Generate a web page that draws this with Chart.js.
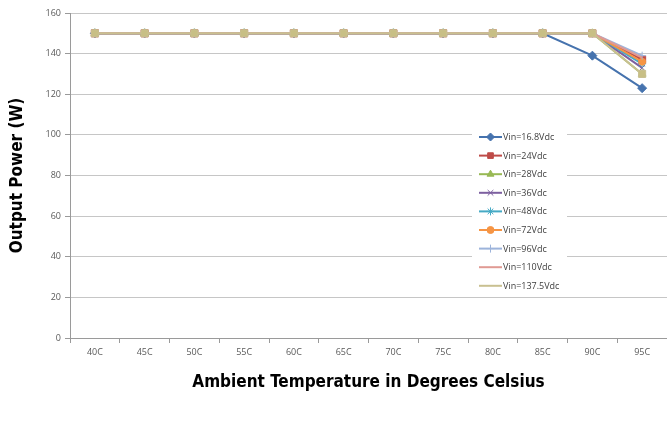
<!DOCTYPE html>
<html>
<head>
<meta charset="utf-8">
<script src="https://cdn.jsdelivr.net/npm/chart.js@4"></script>
<style>
  html, body { margin: 0; padding: 0; background: #fff; }
  #wrap { width: 667px; height: 428px; }
</style>
</head>
<body>
<div id="wrap"><canvas id="powerChart"></canvas></div>
<script>
const temperatures = ['40C', '45C', '50C', '55C', '60C', '65C', '70C', '75C', '80C', '85C', '90C', '95C'];

const vin16_8 = [150, 150, 150, 150, 150, 150, 150, 150, 150, 150, 139, 123];
const vin24 = [150, 150, 150, 150, 150, 150, 150, 150, 150, 150, 150, 137];
const vin28 = [150, 150, 150, 150, 150, 150, 150, 150, 150, 150, 150, 130];
const vin36 = [150, 150, 150, 150, 150, 150, 150, 150, 150, 150, 150, 133];
const vin48 = [150, 150, 150, 150, 150, 150, 150, 150, 150, 150, 150, 135];
const vin72 = [150, 150, 150, 150, 150, 150, 150, 150, 150, 150, 150, 136];
const vin96 = [150, 150, 150, 150, 150, 150, 150, 150, 150, 150, 150, 139];
const vin110 = [150, 150, 150, 150, 150, 150, 150, 150, 150, 150, 150, 138];
const vin137_5 = [150, 150, 150, 150, 150, 150, 150, 150, 150, 150, 150, 130];

const yTicks = [0, 20, 40, 60, 80, 100, 120, 140, 160];

const titleFont = { family: '"DejaVu Sans Condensed", "Liberation Sans", sans-serif', size: 17, weight: 'bold' };

function series(label, data, color, pointStyle, radius, fill, legendMarker) {
    return {
        label,
        data,
        borderColor: color,
        backgroundColor: fill || color,
        pointBorderColor: color,
        pointBackgroundColor: fill || color,
        pointStyle: pointStyle || false,
        pointRadius: pointStyle ? radius : 0,
        pointBorderWidth: 1,
        borderWidth: 2,
        legendMarker: legendMarker !== false,
    };
}

const datasets = [
    series('Vin=16.8Vdc', vin16_8, '#4673AE', 'rectRot', 4.5),
    series('Vin=24Vdc', vin24, '#BE4B48', 'rect', 5),
    series('Vin=28Vdc', vin28, '#98B954', 'triangle', 4.5),
    series('Vin=36Vdc', vin36, '#7D60A0', 'crossRot', 4),
    series('Vin=48Vdc', vin48, '#46AAC5', 'star', 4),
    series('Vin=72Vdc', vin72, '#F69544', 'circle', 3.5),
    series('Vin=96Vdc', vin96, '#9DB4DB', 'cross', 4),
    series('Vin=110Vdc', vin110, '#E09A93', false, 0),
    series('Vin=137.5Vdc', vin137_5, '#C9C091', 'rect', 5, '#C8BF85', false),
];
// later series sit on top, like the original
datasets.forEach((d, i) => { d.order = datasets.length - i; });

const legendBox = {
    id: 'legendBox',
    afterDraw(chart) {
        const ctx = chart.ctx;
        const x0 = 479, y0 = 137, rowH = 18.6;
        ctx.save();
        ctx.fillStyle = '#fff';
        ctx.fillRect(472, 127, 95, 169);
        chart.data.datasets.forEach((ds, i) => {
            const y = y0 + i * rowH;
            ctx.strokeStyle = ds.borderColor;
            ctx.lineWidth = 2;
            ctx.beginPath();
            ctx.moveTo(x0, y);
            ctx.lineTo(x0 + 23, y);
            ctx.stroke();
            if (ds.pointStyle && ds.legendMarker && Chart.helpers && Chart.helpers.drawPoint) {
                ctx.fillStyle = ds.pointBackgroundColor;
                ctx.strokeStyle = ds.pointBorderColor;
                ctx.lineWidth = 1;
                Chart.helpers.drawPoint(ctx, {
                    pointStyle: ds.pointStyle,
                    radius: Math.min(ds.pointRadius, 4),
                    rotation: 0,
                    borderWidth: 1
                }, x0 + 11.5, y);
            }
            ctx.fillStyle = '#404040';
            ctx.font = '9px "Open Sans"';
            ctx.textBaseline = 'middle';
            ctx.fillText(ds.label, x0 + 24, y + 0.5);
        });
        ctx.restore();
    }
};

new Chart(document.getElementById('powerChart'), {
    type: 'line',
    data: { labels: temperatures, datasets },
    options: {
        responsive: true,
        maintainAspectRatio: false,
        animation: false,
        layout: { autoPadding: false, padding: { top: 13, right: -3, left: 0, bottom: 0 } },
        plugins: {
            legend: { display: false },
            tooltip: { enabled: false }
        },
        scales: {
            x: {
                offset: true,
                grid: {
                    offset: true,
                    drawOnChartArea: false,
                    drawTicks: true,
                    tickLength: 5,
                    color: '#9a9a9a'
                },
                border: { color: '#9a9a9a', width: 1 },
                ticks: {
                    color: '#595959',
                    font: { family: 'Open Sans', size: 9 },
                    padding: 4,
                    maxRotation: 0
                },
                title: {
                    display: true,
                    text: 'Ambient Temperature in Degrees Celsius',
                    color: '#000',
                    font: titleFont,
                    padding: { top: 0, bottom: 35 }
                },
                afterFit(scale) {
                    scale.height = 90;
                    scale.paddingLeft = 0;
                    scale.paddingRight = 0;
                }
            },
            y: {
                min: 0,
                max: 160,
                afterBuildTicks(scale) { scale.ticks = yTicks.map(v => ({ value: v })); },
                grid: {
                    color: '#c6c6c6',
                    tickLength: 5,
                    tickColor: '#9a9a9a'
                },
                border: { color: '#9a9a9a', width: 1 },
                ticks: {
                    color: '#595959',
                    font: { family: 'Open Sans', size: 9 },
                    padding: 4
                },
                title: {
                    display: true,
                    text: 'Output Power (W)',
                    color: '#000',
                    font: titleFont,
                    padding: { top: 7, bottom: 0 }
                },
                afterFit(scale) { scale.width = 70; }
            }
        }
    },
    plugins: [legendBox]
});
</script>
</body>
</html>
